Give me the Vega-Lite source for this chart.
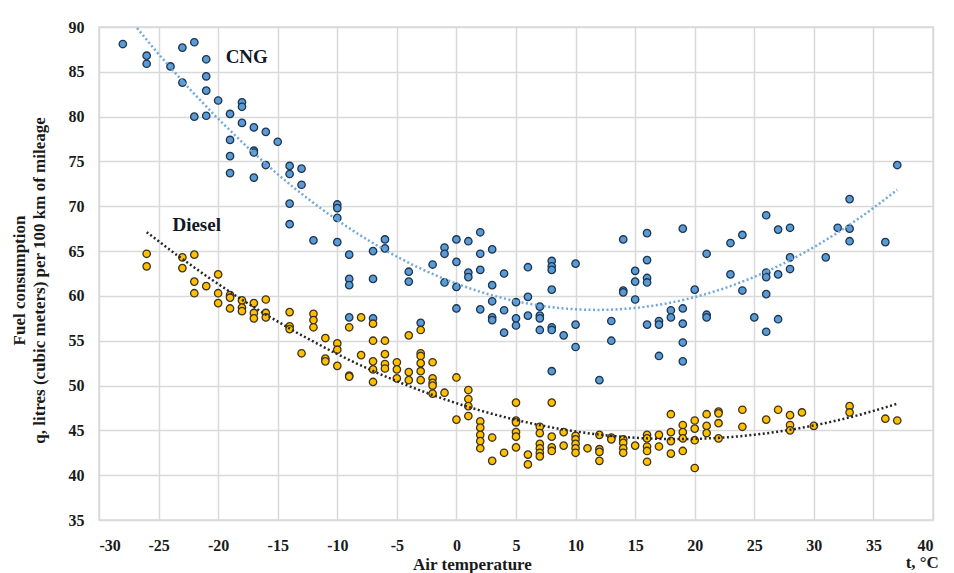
{
  "$schema": "https://vega.github.io/schema/vega-lite/v6.json",
  "width": 834,
  "height": 493,
  "autosize": {"type": "none"},
  "padding": {"left": 99, "top": 27, "right": 21, "bottom": 53},
  "background": "white",
  "config": {
    "view": {"stroke": "#d9d9d9", "strokeWidth": 1.5},
    "axis": {
      "labelFont": "Liberation Serif",
      "labelFontWeight": "bold",
      "labelFontSize": 16,
      "labelColor": "#1a1a1a",
      "titleFont": "Liberation Serif",
      "titleFontWeight": "bold",
      "titleFontSize": 17,
      "titleColor": "#1a1a1a",
      "gridColor": "#d9d9d9",
      "gridWidth": 1.5,
      "domain": false,
      "ticks": false
    }
  },
  "datasets": {
    "pts": [
      {"t": -28, "q": 88.1, "fuel": "CNG"}, {"t": -26, "q": 86.8, "fuel": "CNG"}, {"t": -26, "q": 85.9, "fuel": "CNG"},
      {"t": -24, "q": 85.6, "fuel": "CNG"}, {"t": -23, "q": 87.7, "fuel": "CNG"}, {"t": -22, "q": 88.3, "fuel": "CNG"},
      {"t": -23, "q": 83.8, "fuel": "CNG"}, {"t": -21, "q": 86.4, "fuel": "CNG"}, {"t": -21, "q": 84.5, "fuel": "CNG"},
      {"t": -21, "q": 82.9, "fuel": "CNG"}, {"t": -22, "q": 80.0, "fuel": "CNG"}, {"t": -21, "q": 80.1, "fuel": "CNG"},
      {"t": -20, "q": 81.8, "fuel": "CNG"}, {"t": -18, "q": 81.6, "fuel": "CNG"}, {"t": -18, "q": 81.1, "fuel": "CNG"},
      {"t": -19, "q": 80.3, "fuel": "CNG"}, {"t": -18, "q": 79.3, "fuel": "CNG"}, {"t": -17, "q": 78.8, "fuel": "CNG"},
      {"t": -16, "q": 78.3, "fuel": "CNG"}, {"t": -15, "q": 77.2, "fuel": "CNG"}, {"t": -19, "q": 77.4, "fuel": "CNG"},
      {"t": -19, "q": 75.6, "fuel": "CNG"}, {"t": -17, "q": 76.2, "fuel": "CNG"}, {"t": -17, "q": 76.0, "fuel": "CNG"},
      {"t": -16, "q": 74.6, "fuel": "CNG"}, {"t": -19, "q": 73.7, "fuel": "CNG"}, {"t": -17, "q": 73.2, "fuel": "CNG"},
      {"t": -14, "q": 74.5, "fuel": "CNG"}, {"t": -14, "q": 73.6, "fuel": "CNG"}, {"t": -13, "q": 74.2, "fuel": "CNG"},
      {"t": -13, "q": 72.4, "fuel": "CNG"}, {"t": -14, "q": 70.3, "fuel": "CNG"}, {"t": -14, "q": 68.0, "fuel": "CNG"},
      {"t": -12, "q": 66.2, "fuel": "CNG"}, {"t": -10, "q": 70.2, "fuel": "CNG"}, {"t": -10, "q": 69.8, "fuel": "CNG"},
      {"t": -10, "q": 68.7, "fuel": "CNG"}, {"t": -10, "q": 66.0, "fuel": "CNG"}, {"t": -9, "q": 64.6, "fuel": "CNG"},
      {"t": -9, "q": 61.9, "fuel": "CNG"}, {"t": -9, "q": 61.2, "fuel": "CNG"}, {"t": -7, "q": 65.0, "fuel": "CNG"},
      {"t": -7, "q": 61.9, "fuel": "CNG"}, {"t": -6, "q": 66.3, "fuel": "CNG"}, {"t": -6, "q": 65.3, "fuel": "CNG"},
      {"t": -4, "q": 62.7, "fuel": "CNG"}, {"t": -4, "q": 61.6, "fuel": "CNG"}, {"t": -2, "q": 63.5, "fuel": "CNG"},
      {"t": -1, "q": 65.4, "fuel": "CNG"}, {"t": -1, "q": 64.7, "fuel": "CNG"}, {"t": -1, "q": 61.5, "fuel": "CNG"},
      {"t": -9, "q": 57.6, "fuel": "CNG"}, {"t": -7, "q": 57.5, "fuel": "CNG"}, {"t": -3, "q": 57.0, "fuel": "CNG"},
      {"t": 0, "q": 66.3, "fuel": "CNG"}, {"t": 1, "q": 66.1, "fuel": "CNG"}, {"t": 0, "q": 63.8, "fuel": "CNG"},
      {"t": 0, "q": 61.0, "fuel": "CNG"}, {"t": 0, "q": 58.6, "fuel": "CNG"}, {"t": 1, "q": 62.6, "fuel": "CNG"},
      {"t": 1, "q": 62.1, "fuel": "CNG"}, {"t": 2, "q": 67.1, "fuel": "CNG"}, {"t": 2, "q": 64.7, "fuel": "CNG"},
      {"t": 2, "q": 62.9, "fuel": "CNG"}, {"t": 3, "q": 65.2, "fuel": "CNG"}, {"t": 3, "q": 61.2, "fuel": "CNG"},
      {"t": 2, "q": 58.5, "fuel": "CNG"}, {"t": 3, "q": 59.4, "fuel": "CNG"}, {"t": 3, "q": 57.6, "fuel": "CNG"},
      {"t": 3, "q": 57.3, "fuel": "CNG"}, {"t": 4, "q": 62.5, "fuel": "CNG"}, {"t": 4, "q": 58.4, "fuel": "CNG"},
      {"t": 4, "q": 55.9, "fuel": "CNG"}, {"t": 5, "q": 59.3, "fuel": "CNG"}, {"t": 5, "q": 57.5, "fuel": "CNG"},
      {"t": 5, "q": 56.7, "fuel": "CNG"}, {"t": 6, "q": 63.2, "fuel": "CNG"}, {"t": 6, "q": 59.9, "fuel": "CNG"},
      {"t": 6, "q": 57.8, "fuel": "CNG"}, {"t": 7, "q": 58.8, "fuel": "CNG"}, {"t": 7, "q": 57.8, "fuel": "CNG"},
      {"t": 7, "q": 57.5, "fuel": "CNG"}, {"t": 7, "q": 56.2, "fuel": "CNG"}, {"t": 8, "q": 63.9, "fuel": "CNG"},
      {"t": 8, "q": 63.3, "fuel": "CNG"}, {"t": 8, "q": 62.9, "fuel": "CNG"}, {"t": 8, "q": 60.7, "fuel": "CNG"},
      {"t": 8, "q": 56.5, "fuel": "CNG"}, {"t": 8, "q": 56.2, "fuel": "CNG"}, {"t": 9, "q": 55.6, "fuel": "CNG"},
      {"t": 10, "q": 63.6, "fuel": "CNG"}, {"t": 10, "q": 56.8, "fuel": "CNG"}, {"t": 10, "q": 54.3, "fuel": "CNG"},
      {"t": 8, "q": 51.6, "fuel": "CNG"}, {"t": 12, "q": 50.6, "fuel": "CNG"}, {"t": 13, "q": 57.2, "fuel": "CNG"},
      {"t": 13, "q": 55.0, "fuel": "CNG"}, {"t": 14, "q": 66.3, "fuel": "CNG"}, {"t": 14, "q": 60.6, "fuel": "CNG"},
      {"t": 14, "q": 60.4, "fuel": "CNG"}, {"t": 15, "q": 62.8, "fuel": "CNG"}, {"t": 15, "q": 61.6, "fuel": "CNG"},
      {"t": 15, "q": 59.6, "fuel": "CNG"}, {"t": 16, "q": 67.0, "fuel": "CNG"}, {"t": 16, "q": 64.0, "fuel": "CNG"},
      {"t": 16, "q": 62.0, "fuel": "CNG"}, {"t": 16, "q": 61.5, "fuel": "CNG"}, {"t": 16, "q": 56.8, "fuel": "CNG"},
      {"t": 17, "q": 57.2, "fuel": "CNG"}, {"t": 17, "q": 56.8, "fuel": "CNG"}, {"t": 17, "q": 53.3, "fuel": "CNG"},
      {"t": 18, "q": 58.4, "fuel": "CNG"}, {"t": 18, "q": 57.6, "fuel": "CNG"}, {"t": 19, "q": 67.5, "fuel": "CNG"},
      {"t": 19, "q": 58.6, "fuel": "CNG"}, {"t": 19, "q": 56.9, "fuel": "CNG"}, {"t": 19, "q": 54.8, "fuel": "CNG"},
      {"t": 19, "q": 52.7, "fuel": "CNG"}, {"t": 20, "q": 60.7, "fuel": "CNG"}, {"t": 21, "q": 64.7, "fuel": "CNG"},
      {"t": 21, "q": 57.9, "fuel": "CNG"}, {"t": 21, "q": 57.6, "fuel": "CNG"}, {"t": 23, "q": 65.9, "fuel": "CNG"},
      {"t": 23, "q": 62.4, "fuel": "CNG"}, {"t": 24, "q": 66.8, "fuel": "CNG"}, {"t": 24, "q": 60.6, "fuel": "CNG"},
      {"t": 25, "q": 57.6, "fuel": "CNG"}, {"t": 26, "q": 69.0, "fuel": "CNG"}, {"t": 26, "q": 62.6, "fuel": "CNG"},
      {"t": 26, "q": 62.1, "fuel": "CNG"}, {"t": 26, "q": 60.2, "fuel": "CNG"}, {"t": 26, "q": 56.0, "fuel": "CNG"},
      {"t": 27, "q": 67.4, "fuel": "CNG"}, {"t": 27, "q": 62.4, "fuel": "CNG"}, {"t": 27, "q": 57.4, "fuel": "CNG"},
      {"t": 28, "q": 67.6, "fuel": "CNG"}, {"t": 28, "q": 64.3, "fuel": "CNG"}, {"t": 28, "q": 63.0, "fuel": "CNG"},
      {"t": 31, "q": 64.3, "fuel": "CNG"}, {"t": 32, "q": 67.6, "fuel": "CNG"}, {"t": 33, "q": 70.8, "fuel": "CNG"},
      {"t": 33, "q": 67.5, "fuel": "CNG"}, {"t": 33, "q": 66.1, "fuel": "CNG"}, {"t": 36, "q": 66.0, "fuel": "CNG"},
      {"t": 37, "q": 74.6, "fuel": "CNG"},

      {"t": -26, "q": 64.7, "fuel": "Diesel"}, {"t": -26, "q": 63.3, "fuel": "Diesel"}, {"t": -23, "q": 64.3, "fuel": "Diesel"},
      {"t": -23, "q": 63.1, "fuel": "Diesel"}, {"t": -22, "q": 64.6, "fuel": "Diesel"}, {"t": -22, "q": 61.6, "fuel": "Diesel"},
      {"t": -22, "q": 60.3, "fuel": "Diesel"}, {"t": -21, "q": 61.1, "fuel": "Diesel"}, {"t": -20, "q": 62.4, "fuel": "Diesel"},
      {"t": -20, "q": 60.3, "fuel": "Diesel"}, {"t": -20, "q": 59.2, "fuel": "Diesel"}, {"t": -19, "q": 60.1, "fuel": "Diesel"},
      {"t": -19, "q": 59.8, "fuel": "Diesel"}, {"t": -19, "q": 58.6, "fuel": "Diesel"}, {"t": -18, "q": 59.5, "fuel": "Diesel"},
      {"t": -18, "q": 58.7, "fuel": "Diesel"}, {"t": -18, "q": 58.3, "fuel": "Diesel"}, {"t": -17, "q": 59.2, "fuel": "Diesel"},
      {"t": -17, "q": 58.1, "fuel": "Diesel"}, {"t": -17, "q": 57.5, "fuel": "Diesel"}, {"t": -16, "q": 59.6, "fuel": "Diesel"},
      {"t": -16, "q": 58.1, "fuel": "Diesel"}, {"t": -16, "q": 57.6, "fuel": "Diesel"}, {"t": -14, "q": 58.2, "fuel": "Diesel"},
      {"t": -14, "q": 56.6, "fuel": "Diesel"}, {"t": -14, "q": 56.3, "fuel": "Diesel"}, {"t": -12, "q": 58.0, "fuel": "Diesel"},
      {"t": -12, "q": 57.3, "fuel": "Diesel"}, {"t": -12, "q": 56.5, "fuel": "Diesel"}, {"t": -13, "q": 53.6, "fuel": "Diesel"},
      {"t": -11, "q": 55.3, "fuel": "Diesel"}, {"t": -11, "q": 53.0, "fuel": "Diesel"}, {"t": -11, "q": 52.7, "fuel": "Diesel"},
      {"t": -10, "q": 54.7, "fuel": "Diesel"}, {"t": -10, "q": 54.0, "fuel": "Diesel"}, {"t": -10, "q": 52.2, "fuel": "Diesel"},
      {"t": -9, "q": 56.5, "fuel": "Diesel"}, {"t": -9, "q": 51.1, "fuel": "Diesel"}, {"t": -9, "q": 51.0, "fuel": "Diesel"},
      {"t": -8, "q": 57.6, "fuel": "Diesel"}, {"t": -8, "q": 53.4, "fuel": "Diesel"}, {"t": -7, "q": 56.9, "fuel": "Diesel"},
      {"t": -7, "q": 55.0, "fuel": "Diesel"}, {"t": -6, "q": 55.0, "fuel": "Diesel"}, {"t": -7, "q": 52.7, "fuel": "Diesel"},
      {"t": -7, "q": 51.8, "fuel": "Diesel"}, {"t": -7, "q": 50.4, "fuel": "Diesel"}, {"t": -6, "q": 53.5, "fuel": "Diesel"},
      {"t": -6, "q": 52.4, "fuel": "Diesel"}, {"t": -6, "q": 51.9, "fuel": "Diesel"}, {"t": -5, "q": 52.6, "fuel": "Diesel"},
      {"t": -5, "q": 51.8, "fuel": "Diesel"}, {"t": -5, "q": 50.8, "fuel": "Diesel"}, {"t": -4, "q": 55.6, "fuel": "Diesel"},
      {"t": -4, "q": 51.5, "fuel": "Diesel"}, {"t": -4, "q": 50.6, "fuel": "Diesel"}, {"t": -3, "q": 56.2, "fuel": "Diesel"},
      {"t": -3, "q": 53.6, "fuel": "Diesel"}, {"t": -3, "q": 53.3, "fuel": "Diesel"}, {"t": -3, "q": 52.5, "fuel": "Diesel"},
      {"t": -3, "q": 51.6, "fuel": "Diesel"}, {"t": -3, "q": 50.6, "fuel": "Diesel"}, {"t": -2, "q": 52.6, "fuel": "Diesel"},
      {"t": -2, "q": 50.8, "fuel": "Diesel"}, {"t": -2, "q": 50.3, "fuel": "Diesel"}, {"t": -2, "q": 50.0, "fuel": "Diesel"},
      {"t": -2, "q": 49.1, "fuel": "Diesel"}, {"t": -1, "q": 49.2, "fuel": "Diesel"}, {"t": 0, "q": 50.9, "fuel": "Diesel"},
      {"t": 0, "q": 46.2, "fuel": "Diesel"}, {"t": 1, "q": 49.5, "fuel": "Diesel"}, {"t": 1, "q": 48.5, "fuel": "Diesel"},
      {"t": 1, "q": 47.7, "fuel": "Diesel"}, {"t": 1, "q": 46.6, "fuel": "Diesel"}, {"t": 2, "q": 46.0, "fuel": "Diesel"},
      {"t": 2, "q": 45.3, "fuel": "Diesel"}, {"t": 2, "q": 44.5, "fuel": "Diesel"}, {"t": 2, "q": 43.8, "fuel": "Diesel"},
      {"t": 2, "q": 43.0, "fuel": "Diesel"}, {"t": 3, "q": 44.2, "fuel": "Diesel"}, {"t": 3, "q": 41.6, "fuel": "Diesel"},
      {"t": 4, "q": 42.5, "fuel": "Diesel"}, {"t": 5, "q": 48.1, "fuel": "Diesel"}, {"t": 5, "q": 46.1, "fuel": "Diesel"},
      {"t": 5, "q": 45.9, "fuel": "Diesel"}, {"t": 5, "q": 44.8, "fuel": "Diesel"}, {"t": 5, "q": 44.3, "fuel": "Diesel"},
      {"t": 5, "q": 43.1, "fuel": "Diesel"}, {"t": 6, "q": 42.3, "fuel": "Diesel"}, {"t": 6, "q": 41.2, "fuel": "Diesel"},
      {"t": 7, "q": 45.4, "fuel": "Diesel"}, {"t": 7, "q": 44.7, "fuel": "Diesel"}, {"t": 7, "q": 43.5, "fuel": "Diesel"},
      {"t": 7, "q": 43.0, "fuel": "Diesel"}, {"t": 7, "q": 42.5, "fuel": "Diesel"}, {"t": 7, "q": 42.1, "fuel": "Diesel"},
      {"t": 8, "q": 48.1, "fuel": "Diesel"}, {"t": 8, "q": 44.3, "fuel": "Diesel"}, {"t": 8, "q": 43.1, "fuel": "Diesel"},
      {"t": 8, "q": 42.7, "fuel": "Diesel"}, {"t": 9, "q": 44.8, "fuel": "Diesel"}, {"t": 9, "q": 43.3, "fuel": "Diesel"},
      {"t": 10, "q": 44.4, "fuel": "Diesel"}, {"t": 10, "q": 44.0, "fuel": "Diesel"}, {"t": 10, "q": 43.5, "fuel": "Diesel"},
      {"t": 10, "q": 43.0, "fuel": "Diesel"}, {"t": 10, "q": 42.5, "fuel": "Diesel"}, {"t": 11, "q": 43.0, "fuel": "Diesel"},
      {"t": 12, "q": 44.5, "fuel": "Diesel"}, {"t": 12, "q": 42.9, "fuel": "Diesel"}, {"t": 12, "q": 42.6, "fuel": "Diesel"},
      {"t": 12, "q": 41.6, "fuel": "Diesel"}, {"t": 13, "q": 44.2, "fuel": "Diesel"}, {"t": 13, "q": 44.0, "fuel": "Diesel"},
      {"t": 14, "q": 44.0, "fuel": "Diesel"}, {"t": 14, "q": 43.6, "fuel": "Diesel"}, {"t": 14, "q": 43.0, "fuel": "Diesel"},
      {"t": 14, "q": 42.5, "fuel": "Diesel"}, {"t": 15, "q": 43.3, "fuel": "Diesel"}, {"t": 16, "q": 44.5, "fuel": "Diesel"},
      {"t": 16, "q": 44.1, "fuel": "Diesel"}, {"t": 16, "q": 43.2, "fuel": "Diesel"}, {"t": 16, "q": 42.7, "fuel": "Diesel"},
      {"t": 16, "q": 41.5, "fuel": "Diesel"}, {"t": 17, "q": 44.5, "fuel": "Diesel"}, {"t": 17, "q": 43.2, "fuel": "Diesel"},
      {"t": 18, "q": 46.8, "fuel": "Diesel"}, {"t": 18, "q": 44.8, "fuel": "Diesel"}, {"t": 18, "q": 43.8, "fuel": "Diesel"},
      {"t": 18, "q": 42.4, "fuel": "Diesel"}, {"t": 19, "q": 45.6, "fuel": "Diesel"}, {"t": 19, "q": 44.8, "fuel": "Diesel"},
      {"t": 19, "q": 44.1, "fuel": "Diesel"}, {"t": 19, "q": 42.7, "fuel": "Diesel"}, {"t": 20, "q": 46.1, "fuel": "Diesel"},
      {"t": 20, "q": 45.2, "fuel": "Diesel"}, {"t": 20, "q": 43.9, "fuel": "Diesel"}, {"t": 20, "q": 40.8, "fuel": "Diesel"},
      {"t": 21, "q": 46.8, "fuel": "Diesel"}, {"t": 21, "q": 45.5, "fuel": "Diesel"}, {"t": 21, "q": 44.7, "fuel": "Diesel"},
      {"t": 22, "q": 47.1, "fuel": "Diesel"}, {"t": 22, "q": 46.9, "fuel": "Diesel"}, {"t": 22, "q": 45.8, "fuel": "Diesel"},
      {"t": 22, "q": 44.1, "fuel": "Diesel"}, {"t": 24, "q": 47.3, "fuel": "Diesel"}, {"t": 24, "q": 45.4, "fuel": "Diesel"},
      {"t": 26, "q": 46.2, "fuel": "Diesel"}, {"t": 27, "q": 47.3, "fuel": "Diesel"}, {"t": 28, "q": 46.7, "fuel": "Diesel"},
      {"t": 28, "q": 45.6, "fuel": "Diesel"}, {"t": 28, "q": 45.0, "fuel": "Diesel"}, {"t": 29, "q": 47.0, "fuel": "Diesel"},
      {"t": 30, "q": 45.5, "fuel": "Diesel"}, {"t": 33, "q": 47.7, "fuel": "Diesel"}, {"t": 33, "q": 47.0, "fuel": "Diesel"},
      {"t": 36, "q": 46.3, "fuel": "Diesel"}, {"t": 37, "q": 46.1, "fuel": "Diesel"}
    ],
    "labels": [
      {"t": -17.6, "q": 86.6, "text": "CNG"},
      {"t": -21.8, "q": 67.9, "text": "Diesel"}
    ],
    "unit": [
      {"t": 39.1, "q": 30.2, "text": "t, °C"}
    ]
  },
  "encoding": {
    "x": {
      "field": "t", "type": "quantitative",
      "scale": {"domain": [-30, 40], "nice": false, "zero": false},
      "axis": {
        "values": [-30, -25, -20, -15, -10, -5, 0, 5, 10, 15, 20, 25, 30, 35, 40],
        "labelExpr": "'' + datum.value",
        "labelFont": "Liberation Serif",
        "labelFontWeight": "bold",
        "labelFontSize": 16,
        "labelPadding": 17,
        "title": "Air temperature",
        "titleFontSize": 17,
        "titleBaseline": "middle",
        "titleX": 373,
        "titleY": 44
      }
    },
    "y": {
      "field": "q", "type": "quantitative",
      "scale": {"domain": [35, 90], "nice": false, "zero": false},
      "axis": {
        "values": [35, 40, 45, 50, 55, 60, 65, 70, 75, 80, 85, 90],
        "labelExpr": "'' + datum.value",
        "labelFont": "Liberation Serif",
        "labelFontWeight": "bold",
        "labelFontSize": 16,
        "labelPadding": 15,
        "title": ["Fuel consumption", "q, litres (cubic meters) per 100 km of mileage"],
        "titleFontSize": 17,
        "titleLineHeight": 20,
        "titleX": -71,
        "titleY": 253
      }
    }
  },
  "layer": [
    {
      "data": {"name": "pts"},
      "transform": [{"filter": "datum.fuel === 'CNG'"}],
      "mark": {"type": "point", "filled": true, "shape": "circle", "size": 55, "fill": "#5b9bd5", "stroke": "#1c3550", "strokeWidth": 1.3, "opacity": 1}
    },
    {
      "data": {"name": "pts"},
      "transform": [{"filter": "datum.fuel === 'Diesel'"}],
      "mark": {"type": "point", "filled": true, "shape": "circle", "size": 55, "fill": "#ffc000", "stroke": "#3d3320", "strokeWidth": 1.3, "opacity": 1}
    },
    {
      "data": {"name": "pts"},
      "transform": [
        {"filter": "datum.fuel === 'CNG'"},
        {"regression": "q", "on": "t", "method": "poly", "order": 2}
      ],
      "mark": {"type": "line", "clip": true, "color": "#6fa8dc", "strokeWidth": 2.5, "strokeDash": [2, 2.5]}
    },
    {
      "data": {"name": "pts"},
      "transform": [
        {"filter": "datum.fuel === 'Diesel'"},
        {"regression": "q", "on": "t", "method": "poly", "order": 2}
      ],
      "mark": {"type": "line", "clip": true, "color": "#262626", "strokeWidth": 2.5, "strokeDash": [2, 2.5]}
    },
    {
      "data": {"name": "labels"},
      "mark": {"type": "text", "font": "Liberation Serif", "fontWeight": "bold", "fontSize": 19, "color": "#111827", "align": "center", "baseline": "middle"},
      "encoding": {"text": {"field": "text"}}
    },
    {
      "data": {"name": "unit"},
      "mark": {"type": "text", "clip": false, "font": "Liberation Serif", "fontWeight": "bold", "fontSize": 17, "color": "#1a1a1a", "align": "center", "baseline": "middle"},
      "encoding": {"text": {"field": "text"}}
    }
  ]
}
